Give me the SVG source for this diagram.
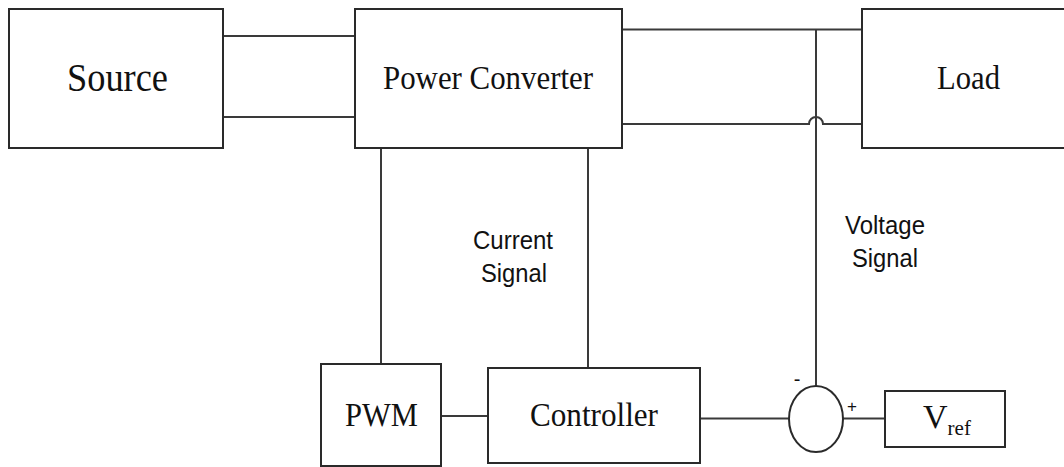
<svg xmlns="http://www.w3.org/2000/svg" width="1064" height="467" viewBox="0 0 1064 467">
<style>
.box{fill:#fff;stroke:#2a2a2a;stroke-width:2}
.w{fill:none;stroke:#3a3a3a;stroke-width:2}
.t{font-family:"Liberation Serif","Times New Roman",serif;fill:#111;text-anchor:middle;font-size:34px}
.s{font-family:"Liberation Sans",Arial,sans-serif;fill:#111;text-anchor:middle;font-size:26px}
</style>
<rect width="1064" height="467" fill="#fff"/>
<g id="connectors">
<path class="w" d="M223 36H355M223 117H355"/>
<path class="w" d="M622 29.5H862"/>
<path class="w" d="M622 124H809A7 7 0 0 1 823 124H862"/>
<path class="w" d="M816 29.5V386"/>
<path class="w" d="M381 148V364M588 148V368"/>
<path class="w" d="M441 416H488"/>
<path class="w" d="M700 418.5H789M843 418.5H885"/>
</g>
<g id="source"><rect class="box" x="9" y="9" width="214" height="139"/><text class="t" x="117.5" y="91" style="font-size:40px" textLength="101" lengthAdjust="spacingAndGlyphs">Source</text></g>
<g id="power-converter"><rect class="box" x="355" y="9" width="267" height="139"/><text class="t" x="488" y="89" textLength="210" lengthAdjust="spacingAndGlyphs">Power Converter</text></g>
<g id="load"><rect class="box" x="862" y="9" width="210" height="139"/><text class="t" x="968.5" y="89" textLength="63" lengthAdjust="spacingAndGlyphs">Load</text></g>
<g id="pwm"><rect class="box" x="321" y="364" width="120" height="102"/><text class="t" x="381.5" y="426" textLength="73" lengthAdjust="spacingAndGlyphs">PWM</text></g>
<g id="controller"><rect class="box" x="488" y="368" width="212" height="95"/><text class="t" x="594" y="426" textLength="128" lengthAdjust="spacingAndGlyphs">Controller</text></g>
<g id="summing-junction"><ellipse class="box" cx="816" cy="419" rx="27" ry="33"/><text class="s" x="797" y="386" style="font-size:20px">-</text><text class="s" x="852" y="412" style="font-size:17px">+</text></g>
<g id="vref"><rect class="box" x="885" y="391" width="120" height="56"/><text class="t" x="923" y="428" style="text-anchor:start">V<tspan style="font-size:21px" dy="7">ref</tspan></text></g>
<g id="current-signal-label"><text class="s" x="513" y="249" textLength="80" lengthAdjust="spacingAndGlyphs">Current</text><text class="s" x="514" y="282" textLength="66" lengthAdjust="spacingAndGlyphs">Signal</text></g>
<g id="voltage-signal-label"><text class="s" x="885" y="234" textLength="80" lengthAdjust="spacingAndGlyphs">Voltage</text><text class="s" x="885" y="267" textLength="66" lengthAdjust="spacingAndGlyphs">Signal</text></g>
</svg>
